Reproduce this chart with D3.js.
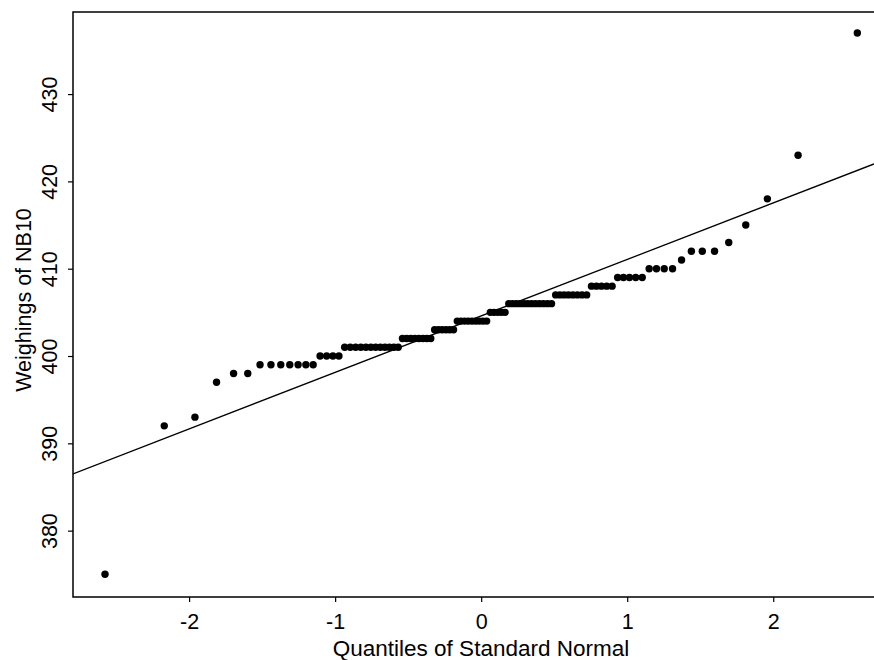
<!DOCTYPE html>
<html><head><meta charset="utf-8">
<script src="https://cdn.jsdelivr.net/npm/d3@7"></script>
<style>
html,body{margin:0;padding:0;background:#fff;}
svg{display:block;font-family:"Liberation Sans",Arial,Helvetica,sans-serif;}
</style></head>
<body><svg id="chart" width="874" height="660"></svg>
<script>
// Weighings of NB10 (sorted sample values)
const weighings = [
 375,392,393,397,398,398,399,399,399,399,399,399,399,400,400,400,400,
 401,401,401,401,401,401,401,401,401,401,401,401,
 402,402,402,402,402,402,402,402,
 403,403,403,403,403,403,
 404,404,404,404,404,404,404,404,404,
 405,405,405,405,405,
 406,406,406,406,406,406,406,406,406,406,406,406,
 407,407,407,407,407,407,407,407,
 408,408,408,408,408,
 409,409,409,409,409,
 410,410,410,410,
 411,412,412,412,413,415,418,423,437
];
const xTicks = [-2,-1,0,1,2];
const yTicks = [380,390,400,410,420,430];
const xDomain = [-2.795, 2.69];
const yDomain = [372.4, 439.4];
const lineIntercept = 404.59;
const lineSlope = 6.47;
const xTitle = "Quantiles of Standard Normal";
const yTitle = "Weighings of NB10";

// inverse standard normal CDF (Acklam)
function qnorm(p){
  const a=[-3.969683028665376e+01,2.209460984245205e+02,-2.759285104469687e+02,1.383577518672690e+02,-3.066479806614716e+01,2.506628277459239e+00];
  const b=[-5.447609879822406e+01,1.615858368580409e+02,-1.556989798598866e+02,6.680131188771972e+01,-1.328068155288572e+01];
  const c=[-7.784894002430293e-03,-3.223964580411365e-01,-2.400758277161838e+00,-2.549732539343734e+00,4.374664141464968e+00,2.938163982698783e+00];
  const d=[7.784695709041462e-03,3.224671290700398e-01,2.445134137142996e+00,3.754408661907416e+00];
  const pl=0.02425, ph=1-pl; let q,r;
  if(p<pl){q=Math.sqrt(-2*Math.log(p));return (((((c[0]*q+c[1])*q+c[2])*q+c[3])*q+c[4])*q+c[5])/((((d[0]*q+d[1])*q+d[2])*q+d[3])*q+1);}
  if(p>ph){q=Math.sqrt(-2*Math.log(1-p));return -(((((c[0]*q+c[1])*q+c[2])*q+c[3])*q+c[4])*q+c[5])/((((d[0]*q+d[1])*q+d[2])*q+d[3])*q+1);}
  q=p-0.5;r=q*q;return (((((a[0]*r+a[1])*r+a[2])*r+a[3])*r+a[4])*r+a[5])*q/(((((b[0]*r+b[1])*r+b[2])*r+b[3])*r+b[4])*r+1);
}
const n = weighings.length;
const pts = weighings.map((v,i)=>({q:qnorm((i+0.5)/n), v}));

const svg = d3.select("#chart");
const L=73, R=874, T=12, B=597;
const FS = 21.5;
const x = d3.scaleLinear().domain(xDomain).range([L,R]);
const y = d3.scaleLinear().domain(yDomain).range([B,T]);

svg.append("clipPath").attr("id","clip").append("rect")
  .attr("x",L).attr("y",T).attr("width",R-L).attr("height",B-T);

// frame: left, top, bottom
svg.append("path").attr("d",`M${R},${T}H${L}V${B}H${R}`)
  .attr("fill","none").attr("stroke","#000").attr("stroke-width",1.5);

const fmt = d => String(d);
const xa = svg.append("g").attr("transform",`translate(0,${B})`)
  .call(d3.axisBottom(x).tickValues(xTicks).tickSize(5).tickSizeOuter(0).tickPadding(12).tickFormat(fmt));
xa.select(".domain").remove();
xa.selectAll("text").attr("font-size",FS).attr("fill","#000").attr("font-family","Liberation Sans, Arial, sans-serif");
xa.selectAll("line").attr("stroke","#000").attr("stroke-width",1.2);

const ya = svg.append("g").attr("transform",`translate(${L},0)`)
  .call(d3.axisLeft(y).tickValues(yTicks).tickSize(5).tickSizeOuter(0).tickFormat(fmt));
ya.select(".domain").remove();
ya.selectAll("line").attr("stroke","#000").attr("stroke-width",1.2);
ya.selectAll("text").attr("font-size",FS).attr("fill","#000").attr("font-family","Liberation Sans, Arial, sans-serif")
  .attr("x",null).attr("dy",null).attr("text-anchor","middle")
  .attr("transform","translate(-22,0) rotate(-90)").attr("dominant-baseline","middle");

const g = svg.append("g").attr("clip-path","url(#clip)");
g.append("line")
  .attr("x1",x(xDomain[0])).attr("y1",y(lineIntercept+lineSlope*xDomain[0]))
  .attr("x2",x(xDomain[1])).attr("y2",y(lineIntercept+lineSlope*xDomain[1]))
  .attr("stroke","#000").attr("stroke-width",1.3);
g.selectAll("circle").data(pts).enter().append("circle")
  .attr("cx",d=>x(d.q)).attr("cy",d=>y(d.v)).attr("r",3.7).attr("fill","#000");

svg.append("text").attr("x",481).attr("y",656).attr("text-anchor","middle")
  .attr("font-size",22.5).text(xTitle);
svg.append("text").attr("transform",`translate(31,300) rotate(-90)`).attr("text-anchor","middle")
  .attr("font-size",FS).text(yTitle);
</script></body></html>
